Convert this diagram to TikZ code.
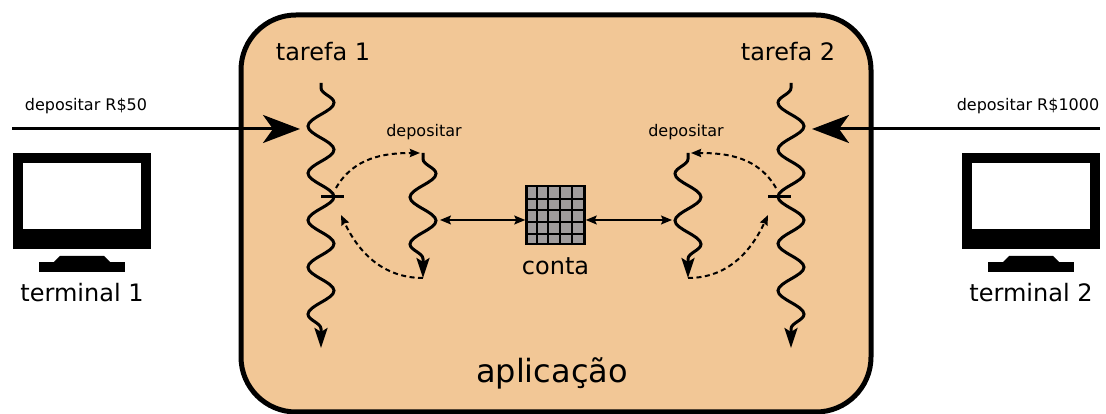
\documentclass[tikz,border=0pt]{standalone}
\usepackage{fontspec}
\setmainfont{DejaVu Sans}
\usetikzlibrary{arrows.meta, positioning, decorations.pathmorphing}

\definecolor{appfill}{RGB}{242,199,150}
\definecolor{cellgray}{RGB}{160,156,156}

\begin{document}
\begin{tikzpicture}[x=1pt, y=1pt, node distance=12pt,
    frame/.style={line width=5pt, rounded corners=55pt, fill=appfill},
    thread/.style={line width=3pt, -{Stealth[length=20pt, width=13pt, inset=4pt]}, decorate,
        decoration={snake, segment length=47pt, amplitude=13pt, pre length=5pt, post length=18pt}},
    sthread/.style={thread, decoration={pre length=6pt, post length=18pt}},
    tick/.style={line width=3pt},
    push/.style={line width=3pt, -{Stealth[length=37pt, width=28pt, inset=10pt]}},
    link/.style={line width=1.5pt, {Stealth[length=11pt, width=9pt, inset=2pt]}-{Stealth[length=11pt, width=9pt, inset=2pt]}},
    call/.style={line width=2pt, dash pattern=on 5pt off 3.5pt, -{Stealth[length=10pt, width=8pt, inset=1pt]}},
    conta/.style={draw, line width=2.5pt, fill=cellgray, minimum size=58pt, inner sep=0pt},
    big/.style={inner sep=0pt, font=\fontsize{24}{28}\selectfont},
    huge/.style={inner sep=0pt, font=\fontsize{32}{38}\selectfont},
    small/.style={inner sep=0pt, font=\fontsize{16}{19}\selectfont}]

    \useasboundingbox (0,0) rectangle (1106,414);

    % application box
    \draw[frame] (241,2) rectangle (871,399);
    \node[huge] (app) at (552,41) {aplicação};

    % threads
    \coordinate (t1top) at (321,331);
    \coordinate (t1end) at (321,66);
    \coordinate (t2top) at (791,331);
    \coordinate (t2end) at (791,66);
    \coordinate (s1top) at (423,261);
    \coordinate (s1end) at (423,136);
    \coordinate (s2top) at (688,261);
    \coordinate (s2end) at (688,136);

    \node[big] (task1) at (323,362) {tarefa 1};
    \node[big] (task2) at (788,362) {tarefa 2};

    \draw[thread] (t1top) -- (t1end);
    \draw[thread, decoration={mirror}] (t2top) -- (t2end);
    \draw[sthread] (s1top) -- (s1end);
    \draw[sthread, decoration={mirror}] (s2top) -- (s2end);

    \node[small] (dep1) at (424,282) {depositar};
    \node[small] (dep2) at (686,282) {depositar};

    % forks
    \coordinate (k1) at (321,217);
    \coordinate (k1e) at (344,217);
    \coordinate (k2) at (768,217);
    \coordinate (k2e) at (791,217);
    \draw[tick] (k1) -- (k1e);
    \draw[tick] (k2) -- (k2e);

    \coordinate (d1) at (336,226);
    \coordinate (r1) at (341,199);
    \coordinate (d2) at (776,226);
    \coordinate (r2) at (768,199);
    \draw[call] (d1) to[out=60, in=180] ([xshift=-3pt]s1top);
    \draw[call] (s1end) to[out=180, in=-65] (r1);
    \draw[call] (d2) to[out=120, in=0] ([xshift=3pt]s2top);
    \draw[call] (s2end) to[out=0, in=-115] (r2);

    % shared account
    \node[conta] (conta) at (555.5,199) {};
    \foreach \i in {1,...,4} {
        \draw[line width=2pt] ([xshift=\i*11.6pt]conta.south west) -- ++(0,58);
        \draw[line width=2pt] ([yshift=\i*11.6pt]conta.south west) -- ++(58,0);
    }
    \node[big, below=12pt of conta] (contalbl) {conta};

    \coordinate (l1) at (440,194);
    \coordinate (l2) at (672,194);
    \draw[link] (l1) -- (conta.west |- l1);
    \draw[link] (conta.east |- l2) -- (l2);

    % requests from the terminals
    \coordinate (in1) at (12,285);
    \coordinate (h1) at (300,285);
    \coordinate (in2) at (1100,285);
    \coordinate (h2) at (812,285);
    \draw[push] (in1) -- (h1);
    \draw[push] (in2) -- (h2);
    \node[small] (cmd1) at (86,308) {depositar R\$50};
    \node[small] (cmd2) at (1028,308) {depositar R\$1000};

    % terminals
    \foreach \m/\cx in {1/82, 2/1031} {
        \fill (\cx-69,165) rectangle (\cx+69,261);
        \fill[white] (\cx-59,185) rectangle (\cx+59,251);
        \fill (\cx-22,158) -- (\cx+22,158) -- (\cx+28,152) -- (\cx-28,152) -- cycle;
        \fill (\cx-43,142) rectangle (\cx+43,152);
        \node[big] (term\m) at (\cx,121) {terminal \m};
    }
\end{tikzpicture}
\end{document}
